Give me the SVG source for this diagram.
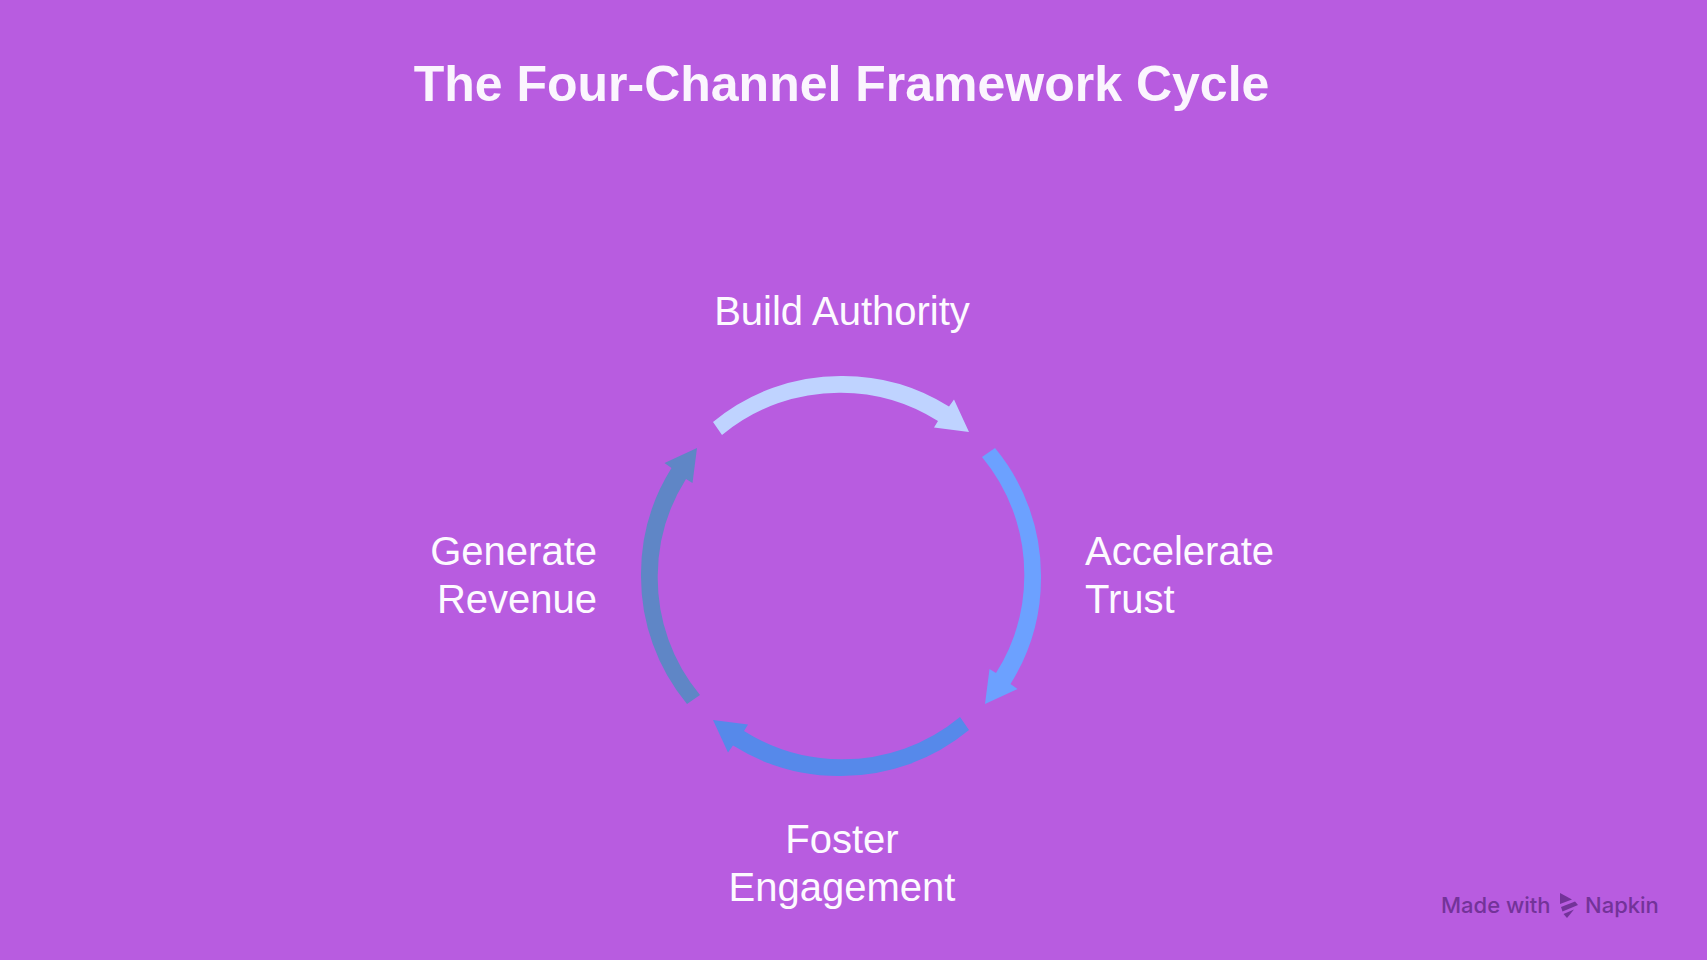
<svg xmlns="http://www.w3.org/2000/svg" width="1707" height="960" viewBox="0 0 1707 960">
<style>
.bg{fill:#B85CE0}
.t{font-family:"Liberation Sans",Arial,sans-serif;fill:#fff}
.title{font-size:50px;font-weight:700;text-anchor:middle;fill:#FBF5FE}
.lab{font-size:40px;fill:#FDFAFF}
.wm{font-family:"Inter","Roboto",sans-serif;font-size:22px;font-weight:500;fill:#733399}
</style>
<defs>
<g id="arrow"><path fill="currentColor" d="M-128-154A200 200 0 0 1 0-200A200 200 0 0 1 108-169.500L113-176.500L128-144L93-148.500L97-155A183 183 0 0 0 0-183.300A183.500 183.500 0 0 0-119-141Z"/></g>
</defs>
<rect class="bg" width="1707" height="960"/>
<text class="t title" x="841.500" y="101">The Four-Channel Framework Cycle</text>
<g id="connectors">
<use href="#arrow" transform="translate(841 576)" color="#BFD3FF"/>
<use href="#arrow" transform="translate(841 576) rotate(90)" color="#6CA1FF"/>
<use href="#arrow" transform="translate(841 576) rotate(180)" color="#5689EA"/>
<use href="#arrow" transform="translate(841 576) rotate(270)" color="#5F86C6"/>
</g>
<g id="node-build-authority"><text class="t lab" x="842" y="325" text-anchor="middle">Build Authority</text></g>
<g id="node-accelerate-trust"><text class="t lab" x="1085" y="565">Accelerate</text><text class="t lab" x="1085" y="613">Trust</text></g>
<g id="node-foster-engagement"><text class="t lab" x="842" y="853" text-anchor="middle">Foster</text><text class="t lab" x="842" y="901" text-anchor="middle">Engagement</text></g>
<g id="node-generate-revenue"><text class="t lab" x="597" y="565" text-anchor="end">Generate</text><text class="t lab" x="597" y="613" text-anchor="end">Revenue</text></g>
<g id="watermark">
<text class="wm" x="1441" y="912.500">Made with</text>
<polygon fill="#733399" points="1560,893 1572,899.500 1560,904"/>
<polygon fill="#733399" points="1561,907 1575,901.500 1578,905 1562.500,911.500"/>
<polygon fill="#733399" points="1563.500,914 1574,909.500 1567,918"/>
<text class="wm" x="1585" y="912.500">Napkin</text>
</g>
</svg>
